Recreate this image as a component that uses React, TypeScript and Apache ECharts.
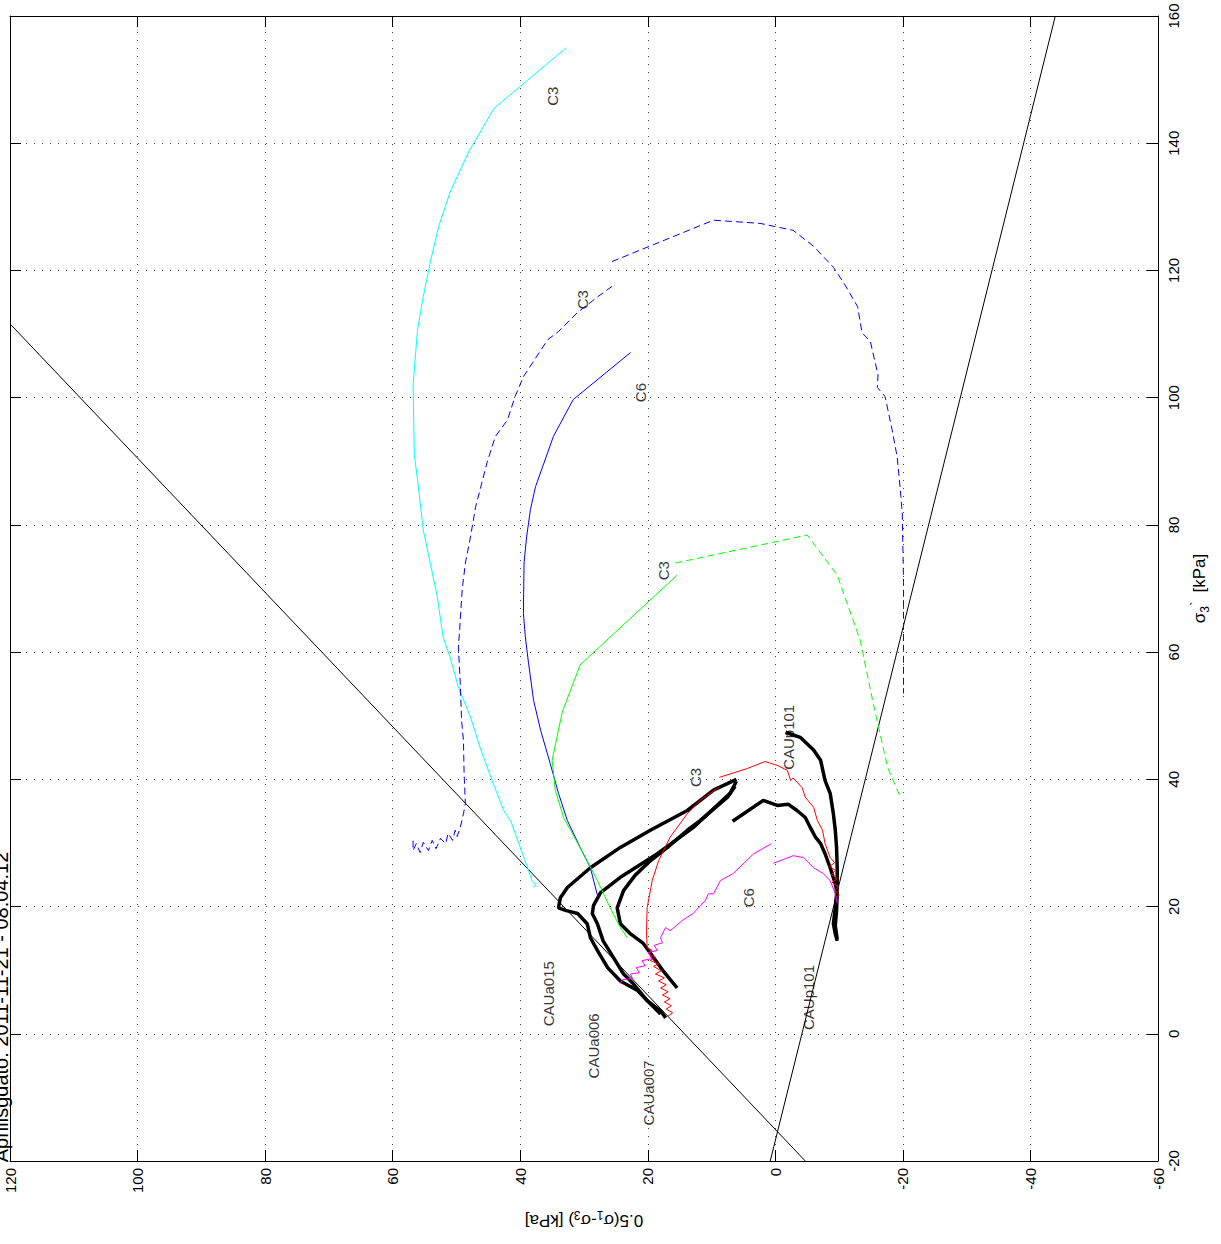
import { useEffect, useRef } from "react";
import * as echarts from "echarts";

// Each point is [0.5(σ1-σ3), σ3'] in kPa
const failureLineA: number[][] = [[119.9, 111.5], [-4.7, -20]];
const failureLineB: number[][] = [[0.8, -20], [-43.9, 160]];

const cyanC3: number[][] = [
  [32.8, 155.0], [44.1, 145.5], [48.1, 138.6], [51.0, 132.3], [52.8, 126.9], [54.1, 121.3],
  [55.2, 115.9], [56.1, 110.7], [56.8, 102.0], [56.6, 91.0], [56.1, 87.1], [55.2, 79.2],
  [54.1, 74.0], [53.0, 68.7], [52.1, 62.4], [51.0, 59.2], [49.7, 54.5], [47.8, 49.8],
  [46.3, 45.0], [44.4, 39.8], [42.6, 35.1], [41.5, 33.5], [40.0, 29.3], [38.7, 25.7],
  [38.2, 24.2], [37.6, 23.4], [37.9, 23.0],
];

const blueDashedUpper: number[][] = [
  [25.6, 121.4], [9.7, 127.9], [2.4, 127.4], [-2.8, 126.3], [-6.0, 123.8], [-9.1, 120.5],
  [-10.7, 118.1], [-12.9, 114.3], [-13.6, 110.2], [-14.9, 108.8], [-16.1, 103.6],
  [-16.0, 101.6], [-17.2, 100.2], [-18.3, 95.0], [-19.1, 90.7], [-19.6, 85.5],
  [-19.9, 81.9], [-20.1, 70.9], [-20.1, 60.3], [-20.1, 53.5],
];

const blueDashedLower: number[][] = [
  [25.6, 117.5], [27.8, 115.9], [31.0, 113.4], [34.0, 110.4], [35.7, 109.1], [39.5, 103.3],
  [40.8, 100.2], [42.0, 96.5], [43.9, 93.9], [45.2, 89.8], [47.0, 82.8], [47.8, 78.1],
  [48.6, 74.0], [49.1, 69.8], [49.5, 63.5], [49.7, 60.8], [49.4, 55.1], [49.2, 49.3],
  [48.9, 46.1], [48.8, 40.9], [48.6, 36.2], [48.9, 34.6], [49.4, 32.4], [49.9, 31.0],
  [50.2, 32.0], [50.6, 30.4], [51.3, 31.5], [51.7, 29.9], [52.5, 30.7], [53.2, 29.1],
  [53.8, 30.4], [54.4, 28.8], [55.2, 30.1], [55.7, 28.5], [56.3, 29.9], [56.8, 28.8],
  [56.8, 30.4],
];

const blueSolidC6: number[][] = [
  [22.7, 107.1], [31.7, 99.7], [34.8, 93.9], [36.5, 89.1], [37.6, 86.0], [38.4, 82.4],
  [39.0, 78.1], [39.4, 74.0], [39.5, 66.1], [39.2, 62.4], [38.7, 58.3], [37.9, 52.4],
  [36.8, 47.7], [35.3, 42.5], [34.0, 37.8], [32.6, 33.5], [30.6, 29.3], [29.0, 26.1],
  [27.8, 21.4],
];

const greenSolidC3: number[][] = [
  [15.4, 72.1], [30.6, 58.0], [33.4, 50.6], [35.0, 43.0], [34.5, 38.3], [33.2, 34.0],
  [32.1, 32.0], [30.1, 28.3], [27.9, 24.1], [25.9, 19.8], [24.3, 16.7], [23.2, 15.1],
];

const greenDashedC3: number[][] = [
  [15.7, 74.0], [-5.0, 78.4], [-9.7, 72.1], [-13.3, 61.9], [-15.4, 51.7], [-17.6, 41.9],
  [-19.6, 37.2],
];

const redRightC3: number[][] = [
  [8.8, 40.3], [4.4, 41.7], [1.6, 42.8], [-0.3, 42.2], [-1.9, 41.4], [-2.4, 39.8],
  [-2.8, 40.2], [-4.2, 38.7], [-4.7, 37.2], [-6.0, 35.6], [-6.6, 33.5], [-7.4, 32.0],
  [-7.8, 29.9], [-8.6, 27.7], [-9.3, 26.9], [-8.5, 26.3], [-9.4, 25.7], [-8.8, 25.0],
  [-9.7, 24.4], [-8.9, 23.8], [-9.9, 23.1], [-9.3, 22.5], [-10.0, 21.9], [-9.6, 21.4],
];

const redLeftC3: number[][] = [
  [8.9, 38.7], [11.8, 36.7], [13.8, 34.6], [16.5, 30.9], [18.3, 27.2], [19.3, 24.1],
  [20.1, 19.8], [20.2, 16.2], [20.1, 13.5], [19.3, 13.1], [19.9, 12.6], [18.8, 12.0],
  [19.6, 11.5], [18.3, 11.0], [19.1, 10.6], [17.9, 9.9], [18.8, 9.4], [17.4, 8.8],
  [18.3, 8.3], [17.1, 7.7], [18.0, 7.2], [16.8, 6.6], [17.7, 6.1], [16.5, 5.5],
  [17.4, 5.0], [16.3, 4.4], [17.1, 3.9], [16.1, 3.3], [16.8, 2.8],
];

const magentaLeftC6: number[][] = [
  [0.6, 29.9], [3.4, 28.3], [6.6, 25.2], [8.6, 24.1], [9.7, 22.0], [10.5, 22.0],
  [11.0, 20.9], [12.9, 18.9], [14.6, 17.8], [16.5, 16.2], [17.2, 16.7], [18.0, 15.1],
  [17.7, 14.3], [19.0, 13.9], [18.5, 13.1], [19.9, 12.8], [19.4, 11.8], [20.9, 11.5],
  [20.4, 10.7], [21.8, 10.4], [21.3, 9.6], [22.7, 9.4], [22.4, 8.7], [24.0, 8.5],
  [24.3, 7.9],
];

const magentaRightC6: number[][] = [
  [0.3, 26.8], [-2.8, 28.0], [-4.4, 27.7], [-6.0, 26.1], [-7.5, 25.2], [-8.6, 24.1],
  [-9.4, 22.0], [-9.7, 20.5],
];

const cauA015: number[][] = [
  [6.1, 40.0], [9.7, 38.3], [13.8, 35.1], [19.6, 32.0], [24.3, 29.3], [29.0, 26.1],
  [32.6, 23.0], [33.7, 21.4], [34.0, 19.8], [32.9, 19.4], [31.0, 18.9], [29.5, 17.3],
  [29.0, 15.1], [27.9, 13.1], [26.3, 10.4], [24.3, 8.3], [21.6, 6.8], [19.6, 4.7],
  [18.0, 3.1],
];

const cauA006: number[][] = [
  [6.1, 39.7], [7.1, 37.8], [12.9, 32.4], [18.5, 28.3], [24.3, 24.6], [27.4, 22.2],
  [28.5, 20.2], [28.7, 18.9], [27.9, 17.3], [27.0, 14.6], [25.4, 12.0], [23.8, 9.4],
  [22.3, 7.9], [20.1, 5.2], [18.0, 3.6], [17.2, 2.5],
];

const cauA007: number[][] = [
  [6.3, 38.9], [7.5, 37.2], [11.8, 33.5], [13.8, 32.0], [16.9, 29.3], [19.6, 27.2],
  [22.0, 24.9], [23.8, 22.5], [24.8, 19.8], [24.3, 17.3], [22.7, 15.7], [20.7, 14.2],
  [19.1, 12.0], [17.6, 9.9], [15.4, 7.2],
];

const cauP101Upper: number[][] = [
  [-1.6, 47.4], [-3.9, 46.6], [-6.0, 44.6], [-7.1, 43.0], [-7.8, 39.8], [-8.6, 37.8],
  [-9.1, 34.6], [-9.4, 32.0], [-9.6, 29.3], [-9.7, 26.1], [-9.7, 23.0], [-9.4, 19.8],
  [-9.1, 17.3], [-9.4, 15.7], [-9.7, 14.6],
];

const cauP101Lower: number[][] = [
  [6.7, 33.4], [1.9, 36.7], [-0.3, 35.9], [-2.0, 36.1], [-3.4, 35.1], [-4.7, 34.0],
  [-5.5, 32.4], [-6.3, 30.9], [-7.1, 29.9], [-7.8, 28.3], [-8.6, 26.1], [-9.4, 23.6],
  [-9.7, 22.0], [-9.6, 19.4], [-9.4, 17.0], [-9.7, 14.9],
];

const labelTexts: string[] = [
  "C3", "C3", "C6", "C3", "C3", "CAUp101", "C6", "CAUa015", "CAUa006", "CAUa007", "CAUp101",
];
const labelQ: number[] = [35.0, 30.3, 21.2, 17.6, 12.5, -2.0, 4.2, 35.6, 28.5, 19.9, -5.2];
const labelS: number[] = [147.4, 115.4, 100.8, 72.8, 40.3, 46.6, 21.4, 6.3, -1.9, -9.3, 5.7];

const dateText = "Aprilisgdato: 2011-11-21 - 08:04:12";

const FONT = '"Liberation Sans", Arial, Helvetica, sans-serif';

export default function App() {
  const ref = useRef<HTMLDivElement>(null);

  useEffect(() => {
    if (!ref.current) return;
    const chart = echarts.init(ref.current, undefined, { renderer: "svg" });

    const line = (data: number[][], color: string, width: number, dashed = false) => ({
      type: "line",
      data,
      showSymbol: false,
      symbol: "none",
      silent: true,
      lineStyle: { color, width, type: dashed ? [7, 4] : "solid" },
    });

    const tickStyle = { inside: true, length: 11, lineStyle: { color: "#000", width: 1 } };
    const gridLine = { show: true, lineStyle: { color: "#444", width: 1, type: [1, 7] } };
    const labelStyle = { fontSize: 15, color: "#000", fontFamily: FONT };
    const nameRich = {
      n: { fontSize: 17, fontFamily: FONT, color: "#000" },
      sp: { fontSize: 17, fontFamily: FONT, color: "#000", width: 9 },
      sub: { fontSize: 12, fontFamily: FONT, color: "#000", padding: [10, 0, 0, 0] },
      sup: { fontSize: 14, fontFamily: FONT, color: "#000", padding: [0, 0, 8, 0] },
    };

    chart.setOption({
      animation: false,
      backgroundColor: "#fff",
      grid: { left: 10, right: 63, top: 16, bottom: 83, containLabel: false },
      xAxis: [
        {
          type: "value",
          min: -60,
          max: 120,
          interval: 20,
          inverse: true,
          position: "bottom",
          axisLine: { show: true, onZero: false, lineStyle: { color: "#000", width: 1 } },
          axisTick: tickStyle,
          axisLabel: { ...labelStyle, rotate: 90, margin: 7, showMinLabel: true, showMaxLabel: true },
          splitLine: gridLine,
          name: "{n|0.5(σ}{sub|1}{n|-σ}{sub|3}{n|) [kPa]}",
          nameLocation: "middle",
          nameRotate: 180,
          nameGap: 48,
          nameTextStyle: { ...labelStyle, rich: nameRich },
        },
        {
          type: "value",
          min: -60,
          max: 120,
          interval: 20,
          inverse: true,
          position: "top",
          axisLine: { show: true, onZero: false, lineStyle: { color: "#000", width: 1 } },
          axisTick: tickStyle,
          axisLabel: { show: false },
          splitLine: { show: false },
        },
      ],
      yAxis: [
        {
          type: "value",
          min: -20,
          max: 160,
          interval: 20,
          position: "right",
          axisLine: { show: true, onZero: false, lineStyle: { color: "#000", width: 1 } },
          axisTick: tickStyle,
          axisLabel: { ...labelStyle, rotate: 90, margin: 8, showMinLabel: true, showMaxLabel: true },
          splitLine: gridLine,
          name: "{n|σ}{sub|3}{sup|`}{sp| }{n|[kPa]}",
          nameLocation: "middle",
          nameRotate: 90,
          nameGap: 30,
          nameTextStyle: { ...labelStyle, rich: nameRich },
        },
        {
          type: "value",
          min: -20,
          max: 160,
          interval: 20,
          position: "left",
          axisLine: { show: true, onZero: false, lineStyle: { color: "#000", width: 1 } },
          axisTick: tickStyle,
          axisLabel: { show: false },
          splitLine: { show: false },
        },
      ],
      graphic: [
        {
          type: "text",
          x: 1,
          y: 1007,
          rotation: Math.PI / 2,
          silent: true,
          style: {
            text: dateText,
            font: `20px ${FONT}`,
            fill: "#000",
            textAlign: "center",
            textVerticalAlign: "middle",
          },
        },
      ],
      series: [
        line(failureLineA, "#000", 1),
        line(failureLineB, "#000", 1),
        line(cauA015, "#000", 3.5),
        line(cauA006, "#000", 3.5),
        line(cauA007, "#000", 3.5),
        line(cauP101Upper, "#000", 3.5),
        line(cauP101Lower, "#000", 3.5),
        line(cyanC3, "#00ffff", 1),
        line(blueDashedUpper, "#0000ff", 1, true),
        line(blueDashedLower, "#0000ff", 1, true),
        line(blueSolidC6, "#0000ff", 1),
        line(greenSolidC3, "#00ff00", 1),
        line(greenDashedC3, "#00ff00", 1, true),
        line(redRightC3, "#ff0000", 1),
        line(redLeftC3, "#ff0000", 1),
        line(magentaLeftC6, "#ff00ff", 1),
        line(magentaRightC6, "#ff00ff", 1),
        {
          type: "scatter",
          symbolSize: 0,
          silent: true,
          data: labelTexts.map((t, i) => ({ name: t, value: [labelQ[i], labelS[i]] })),
          label: {
            show: true,
            formatter: "{b}",
            position: "inside",
            rotate: 90,
            align: "center",
            verticalAlign: "middle",
            ...labelStyle,
          },
        },
      ],
    });

    return () => chart.dispose();
  }, []);

  return (
    <div
      ref={ref}
      style={{ position: "absolute", left: 0, top: 0, width: 1221, height: 1244, background: "#fff" }}
    />
  );
}
